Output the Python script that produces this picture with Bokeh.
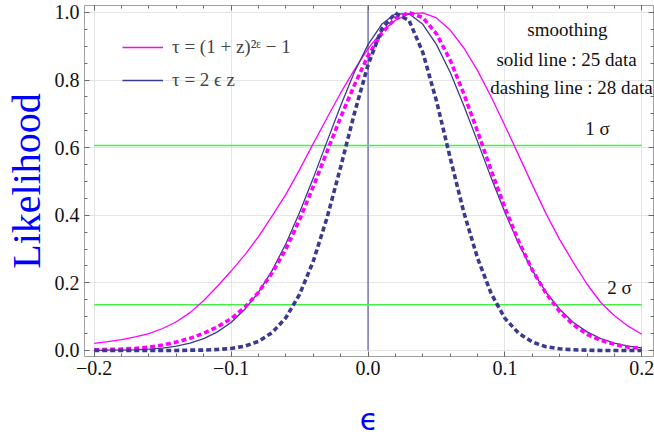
from bokeh.plotting import figure
from bokeh.models import (Range1d, LinearAxis, SingleIntervalTicker,
                          CustomJSTickFormatter, Label, Legend, LegendItem)
from bokeh.embed import file_html
from bokeh.resources import INLINE

# ---------------- data ----------------
eps = [-0.20, -0.19, -0.18, -0.17, -0.16, -0.15, -0.14, -0.13, -0.12, -0.11,
       -0.10, -0.09, -0.08, -0.07, -0.06, -0.05, -0.04, -0.03, -0.02, -0.01,
       0.00, 0.01, 0.02, 0.03, 0.04, 0.05, 0.06, 0.07, 0.08, 0.09,
       0.10, 0.11, 0.12, 0.13, 0.14, 0.15, 0.16, 0.17, 0.18, 0.19, 0.20]

# tau = (1+z)^(2 eps) - 1, 25 data (solid)
mag_solid = [0.021, 0.026, 0.032, 0.040, 0.050, 0.065, 0.085, 0.112, 0.148, 0.190,
             0.235, 0.283, 0.337, 0.398, 0.462, 0.535, 0.612, 0.688, 0.762, 0.830,
             0.893, 0.943, 0.977, 0.996, 0.999, 0.984, 0.948, 0.895, 0.828, 0.750,
             0.665, 0.578, 0.490, 0.405, 0.328, 0.260, 0.196, 0.142, 0.103, 0.072, 0.048]
# tau = 2 eps z, 25 data (solid)
navy_solid = [0.000, 0.001, 0.001, 0.002, 0.004, 0.007, 0.013, 0.022, 0.035, 0.055,
              0.083, 0.122, 0.172, 0.237, 0.316, 0.408, 0.510, 0.618, 0.724, 0.823,
              0.905, 0.965, 0.996, 0.996, 0.965, 0.905, 0.823, 0.724, 0.618, 0.510,
              0.408, 0.316, 0.237, 0.172, 0.122, 0.083, 0.055, 0.035, 0.022, 0.013, 0.008]
# tau = (1+z)^(2 eps) - 1, 28 data (dashed)
mag_dash = [0.002, 0.003, 0.004, 0.006, 0.010, 0.016, 0.025, 0.036, 0.051, 0.070,
            0.094, 0.128, 0.172, 0.230, 0.300, 0.387, 0.485, 0.588, 0.690, 0.785,
            0.872, 0.938, 0.983, 1.000, 0.985, 0.937, 0.859, 0.759, 0.648, 0.532,
            0.422, 0.323, 0.238, 0.169, 0.115, 0.076, 0.048, 0.030, 0.018, 0.010, 0.006]
# tau = 2 eps z, 28 data (dashed)
navy_dash = [0.000, 0.000, 0.000, 0.000, 0.000, 0.000, 0.000, 0.001, 0.001, 0.003,
             0.006, 0.013, 0.027, 0.053, 0.097, 0.166, 0.264, 0.392, 0.543, 0.701,
             0.845, 0.951, 0.998, 0.976, 0.882, 0.738, 0.570, 0.408, 0.273, 0.168,
             0.095, 0.051, 0.025, 0.011, 0.005, 0.002, 0.001, 0.000, 0.000, 0.000, 0.000]

sigma_levels = [0.6065, 0.1353]
sigma_names = ["1 σ", "2 σ"]

x_ticks = [-0.2, -0.1, 0.0, 0.1, 0.2]
x_tick_labels = ["−0.2", "−0.1", "0.0", "0.1", "0.2"]
y_ticks = [0.0, 0.2, 0.4, 0.6, 0.8, 1.0]
y_tick_labels = ["0.0", "0.2", "0.4", "0.6", "0.8", "1.0"]

legend_labels = ["τ = (1 + z)²ᵋ − 1", "τ = 2 ϵ z"]
note_lines = ["smoothing", "solid line : 25 data", "dashing line : 28 data"]

# ---------------- styling ----------------
MAG = "#ff00ff"
NAVY = "#3a3a8e"
GREEN = "#46ee46"
FONT = "Liberation Serif"

p = figure(width=654, height=439, output_backend="svg", toolbar_location=None,
           x_range=Range1d(-0.2071, 0.2085), y_range=Range1d(-0.0178, 1.0207),
           x_axis_location=None, y_axis_location=None,
           min_border_left=84, min_border_right=1, min_border_top=5,
           min_border_bottom=83)
p.outline_line_color = None
p.background_fill_color = "white"
p.border_fill_color = "white"

js_map = """
let best = 0;
for (let i = 0; i < tv.length; i++) {
  if (Math.abs(tv[i] - tick) < Math.abs(tv[best] - tick)) { best = i; }
}
return tl[best];
"""
blank = CustomJSTickFormatter(code="return '';")


def style_axis(ax):
    ax.axis_line_color = "#a0a0a0"
    ax.axis_line_width = 1
    ax.major_tick_in = 5
    ax.major_tick_out = 0
    ax.minor_tick_in = 3
    ax.minor_tick_out = 0
    ax.major_tick_line_color = "#6a6a6a"
    ax.minor_tick_line_color = "#6a6a6a"
    ax.major_label_text_font = FONT
    ax.major_label_text_font_size = "20px"
    ax.major_label_text_color = "#111111"


xb = LinearAxis(ticker=SingleIntervalTicker(interval=0.1, num_minor_ticks=5),
                formatter=CustomJSTickFormatter(args=dict(tv=x_ticks, tl=x_tick_labels), code=js_map),
                axis_label="ϵ")
style_axis(xb)
xb.major_label_standoff = 4
xb.axis_label_standoff = 24
xb.axis_label_text_font = "DejaVu Sans"
xb.axis_label_text_font_size = "30px"
xb.axis_label_text_font_style = "normal"
xb.axis_label_text_color = "#0000ff"

yl = LinearAxis(ticker=SingleIntervalTicker(interval=0.2, num_minor_ticks=4),
                formatter=CustomJSTickFormatter(args=dict(tv=y_ticks, tl=y_tick_labels), code=js_map),
                axis_label="Likelihood")
style_axis(yl)
yl.major_label_standoff = 5
yl.axis_label_standoff = 3
yl.axis_label_text_font = FONT
yl.axis_label_text_font_size = "40px"
yl.axis_label_text_font_style = "normal"
yl.axis_label_text_color = "#0000ff"

xt = LinearAxis(ticker=SingleIntervalTicker(interval=0.1, num_minor_ticks=5), formatter=blank)
style_axis(xt)
xt.major_label_text_font_size = "0px"
xt.major_label_standoff = 0

yr = LinearAxis(ticker=SingleIntervalTicker(interval=0.2, num_minor_ticks=4), formatter=blank)
style_axis(yr)
yr.major_label_text_font_size = "0px"
yr.major_label_standoff = 0

p.add_layout(xb, "below")
p.add_layout(yl, "left")
p.add_layout(xt, "above")
p.add_layout(yr, "right")

# vertical line at eps = 0
p.segment(x0=[0.0], y0=[0.0], x1=[0.0], y1=[1.2], line_color="#5a5ab0", line_width=1.2)

# sigma levels
for lvl in sigma_levels:
    p.line([eps[0], eps[-1]], [lvl, lvl], line_color=GREEN, line_width=1.6)

r_ms = p.line(eps, mag_solid, line_color=MAG, line_width=1.3)
r_ns = p.line(eps, navy_solid, line_color=NAVY, line_width=1.3)
p.line(eps, mag_dash, line_color=MAG, line_width=3.6, line_dash="5 3")
p.line(eps, navy_dash, line_color=NAVY, line_width=3.6, line_dash="5 3")

legend = Legend(items=[LegendItem(label=legend_labels[0], renderers=[r_ms]),
                       LegendItem(label=legend_labels[1], renderers=[r_ns])],
                location=(38, 265), glyph_width=41, glyph_height=20, label_height=20,
                label_standoff=9, spacing=11, padding=0, margin=0,
                border_line_alpha=0, background_fill_alpha=0,
                label_text_font=FONT, label_text_font_size="19px")
p.add_layout(legend)

note_pos = [(0.1456, 0.950), (0.1450, 0.861), (0.1486, 0.778)]
for (nx, ny), txt in zip(note_pos, note_lines):
    p.add_layout(Label(x=nx, y=ny, text=txt, text_align="center", text_baseline="middle",
                       text_font=FONT, text_font_size="19px", text_color="#111111"))

sig_pos = [(0.1676, 0.657), (0.1836, 0.186)]
for (sx, sy), txt in zip(sig_pos, sigma_names):
    p.add_layout(Label(x=sx, y=sy, text=txt, text_align="center", text_baseline="middle",
                       text_font=FONT, text_font_size="19px", text_color="#111111"))

open("out.html", "w").write(file_html(p, INLINE))
